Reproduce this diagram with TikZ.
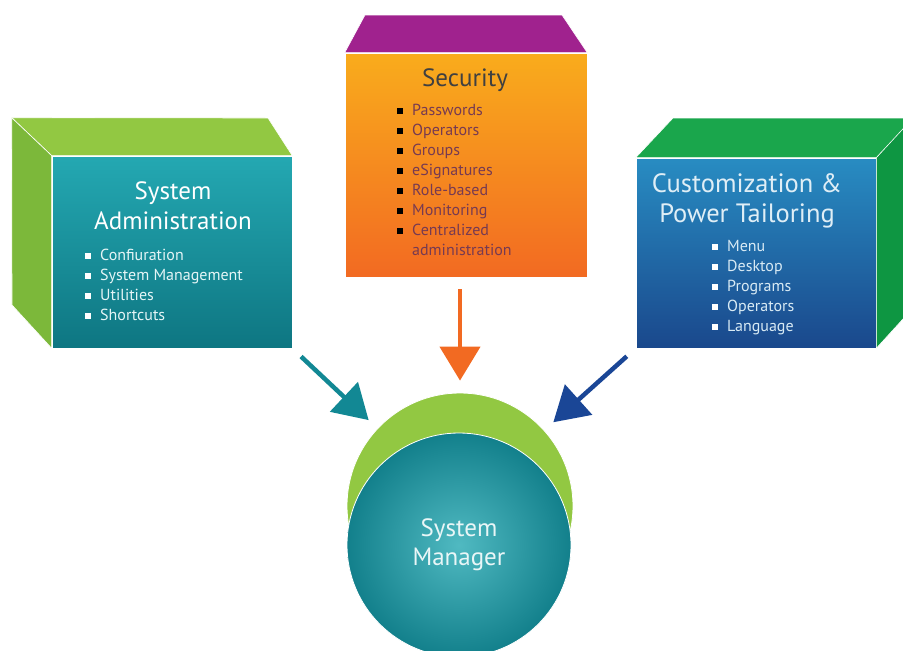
\documentclass[tikz,border=0pt]{standalone}
\usepackage{fontspec}
\setmainfont{PT Sans}
\usetikzlibrary{arrows.meta}
\definecolor{leaftop}{RGB}{146,200,66}
\definecolor{leafside}{RGB}{124,184,58}
\definecolor{grasstop}{RGB}{26,166,76}
\definecolor{grassside}{RGB}{14,150,66}
\definecolor{plum}{RGB}{160,34,142}
\definecolor{tealhi}{RGB}{36,168,178}
\definecolor{tealdk}{RGB}{14,118,130}
\definecolor{ambhi}{RGB}{249,172,28}
\definecolor{ambdk}{RGB}{242,106,34}
\definecolor{bluehi}{RGB}{40,140,194}
\definecolor{bluedk}{RGB}{26,72,140}
\definecolor{mauve}{RGB}{118,58,82}
\definecolor{tealarrow}{RGB}{18,136,148}
\definecolor{bluearrow}{RGB}{26,70,150}
\newcommand\sqbox[1]{\textcolor{#1}{\rule[1pt]{6pt}{6pt}}\hspace{9pt}}
\tikzset{
  face/.style={minimum width=240pt, minimum height=192pt, inner sep=0pt, draw=white, line width=0.6pt},
  boxtitle/.style={align=center, inner sep=0pt, font=\fontsize{25}{30}\selectfont},
  listitem/.style={anchor=base west, inner sep=0pt, font=\fontsize{16}{18}\selectfont},
  bigarrow/.style={line width=4.5pt, -{Triangle[width=40pt,length=34pt]}, shorten <=12pt, shorten >=12pt},
}
\begin{document}
\begin{tikzpicture}[x=1pt,y=-1pt]
\useasboundingbox (0,0) rectangle (903,651);
\clip (0,0) rectangle (903,651);

% left box
\node[face, shading angle=-40, top color=tealhi, bottom color=tealdk] (sysadmin) at (172,252) {};
\filldraw[draw=white, line width=0.6pt, fill=leaftop] (sysadmin.north west) -- ++(-40,-38) -- (268,118) -- (sysadmin.north east) -- cycle;
\filldraw[draw=white, line width=0.6pt, fill=leafside] (sysadmin.north west) -- ++(-40,-38) -- (12,305) -- (sysadmin.south west) -- cycle;
\node[boxtitle, text=white] (sysadmintitle) at (173,206) {System\\Administration};
\foreach \t [count=\i] in {Confiuration, System Management, Utilities, Shortcuts}
  \node[listitem, text=white!88!tealhi] (sa\i) at (85,{260+20*(\i-1)}) {\sqbox{white}\t};

% middle box
\node[face, minimum width=242pt, minimum height=224pt, top color=ambhi, bottom color=ambdk] (security) at (466,165) {};
\filldraw[draw=white, line width=0.6pt, fill=plum] (security.north west) -- (365,15) -- (562,15) -- (security.north east) -- cycle;
\node[boxtitle, text=black!75] (securitytitle) at (465,80) {Security};
\foreach \t [count=\i] in {Passwords, Operators, Groups, eSignatures, Role-based, Monitoring, Centralized}
  \node[listitem, text=mauve] (sec\i) at (397,{115+20*(\i-1)}) {\sqbox{black}\t};
\node[listitem, text=mauve] (sec8) at (412,255) {administration};

% right box
\node[face, minimum height=190pt, shading angle=40, top color=bluehi, bottom color=bluedk] (custom) at (756,253) {};
\filldraw[draw=white, line width=0.6pt, fill=grasstop] (custom.north west) -- (673,118) -- (915,118) -- (custom.north east) -- cycle;
\filldraw[draw=white, line width=0.6pt, fill=grassside] (custom.north east) -- ++(37,-40) -- ++(0,190) -- (custom.south east) -- cycle;
\node[boxtitle, text=white!85!bluehi, font=\fontsize{26.5}{30}\selectfont] (customtitle) at (747,201) {Customization \&\\Power Tailoring};
\foreach \t [count=\i] in {Menu, Desktop, Programs, Operators, Language}
  \node[listitem, text=white!82!bluehi] (cu\i) at (712,{251+20*(\i-1)}) {\sqbox{white}\t};

% circles
\node[circle, minimum size=226pt, fill=leaftop, draw=white, line width=0.8pt] (managerback) at (460,506) {};
\node[circle, minimum size=224pt, inner color=tealhi!80!white, outer color=tealdk!80!tealhi, draw=white, line width=0.8pt,
      align=center, text=white!90!tealhi, font=\fontsize{25}{29}\selectfont] (manager) at (459,545) {System\\Manager};

% arrows
\draw[bigarrow, tealarrow] (sysadmin.south east) -- (managerback);
\draw[bigarrow, ambdk] (security.south -| managerback) -- (managerback.north);
\draw[bigarrow, bluearrow] (custom.south west) -- (managerback);

\end{tikzpicture}
\end{document}
